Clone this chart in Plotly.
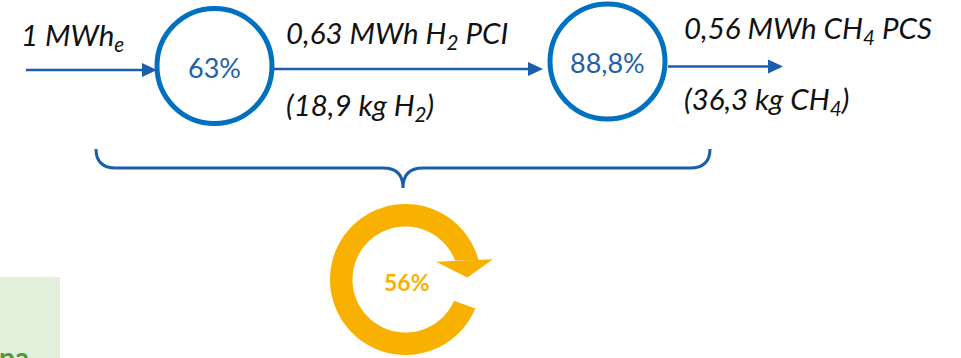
import math
import plotly.graph_objects as go

# ---- content -------------------------------------------------------------
stage_efficiency = [63.0, 88.8]          # % electrolysis, % methanation
overall_efficiency = round(stage_efficiency[0] * stage_efficiency[1] / 100)  # 56 %
flow_top = ["1 MWh<sub>e</sub>", "0,63 MWh H<sub>2</sub> PCI", "0,56 MWh CH<sub>4</sub> PCS"]
flow_bottom = ["", "(18,9 kg H<sub>2</sub>)", "(36,3 kg CH<sub>4</sub>)"]
side_label = "pa"

# ---- styling / layout constants ----------------------------------------------
W, H = 961, 358
FONT = "Lato"
TEXT_SIZE = 29.5
CIRCLE_BLUE = "#0070C0"
ARROW_BLUE = "#1A5DAB"
LABEL_BLUE = "#1F60AA"
GOLD = "#F8B100"

circle_centers = [(214.5, 66.0), (607.5, 61.5)]
circle_r = 57.5
arrows = [  # (x_start, x_tip, y)
    (26, 157, 70),
    (274, 543, 69),
    (668, 783, 66.5),
]
top_pos = [(19, 36), (284, 34), (682, 29)]
bottom_pos = [None, (284, 106), (682, 100)]


def fmt_pct(v):
    s = f"{v:.1f}".rstrip("0").rstrip(".")
    return s.replace(".", ",") + "%"


shapes = []
annotations = []

# stage circles
for (cx, cy), eff in zip(circle_centers, stage_efficiency):
    shapes.append(dict(type="circle", xref="x", yref="y",
                       x0=cx - circle_r, x1=cx + circle_r,
                       y0=cy - circle_r, y1=cy + circle_r,
                       line=dict(color=CIRCLE_BLUE, width=5)))
    annotations.append(dict(x=cx, y=cy + 1, xref="x", yref="y", text=fmt_pct(eff),
                            showarrow=False, xanchor="center", yanchor="middle",
                            font=dict(family=FONT, size=27, color=LABEL_BLUE)))

# flow arrows
HEAD_L, HEAD_W = 15, 7
for x0, xt, y in arrows:
    shapes.append(dict(type="line", xref="x", yref="y", x0=x0, x1=xt - HEAD_L + 1,
                       y0=y, y1=y, line=dict(color=ARROW_BLUE, width=2.5)))
    shapes.append(dict(type="path", xref="x", yref="y",
                       path=f"M {xt - HEAD_L} {y - HEAD_W} L {xt} {y} L {xt - HEAD_L} {y + HEAD_W} Z",
                       fillcolor=ARROW_BLUE, line=dict(width=0)))

# flow labels
for txt, (x, y) in zip(flow_top, top_pos):
    annotations.append(dict(x=x, y=y, xref="x", yref="y", text=f"<i>{txt}</i>",
                            showarrow=False, xanchor="left", yanchor="middle",
                            font=dict(family=FONT, size=TEXT_SIZE, color="#111111")))
for txt, pos in zip(flow_bottom, bottom_pos):
    if pos is None:
        continue
    x, y = pos
    annotations.append(dict(x=x, y=y, xref="x", yref="y", text=f"<i>{txt}</i>",
                            showarrow=False, xanchor="left", yanchor="middle",
                            font=dict(family=FONT, size=TEXT_SIZE, color="#111111")))

# curly brace grouping both stages
bl, br, by_top, by, bx, btip, rad = 96, 710, 149, 168, 403, 188, 20
brace = (f"M {bl} {by_top} Q {bl} {by} {bl + rad} {by} "
         f"L {bx - rad} {by} Q {bx} {by} {bx} {btip} "
         f"Q {bx} {by} {bx + rad} {by} "
         f"L {br - rad} {by} Q {br} {by} {br} {by_top}")
shapes.append(dict(type="path", xref="x", yref="y", path=brace,
                   line=dict(color=ARROW_BLUE, width=3)))

# circular arrow for overall efficiency
rcx, rcy, r_out, r_in = 405.5, 279.5, 75.5, 53.0
a_start_out, a_start_in = 22.5, 23.5       # degrees, clockwise on screen
a_end_out, a_end_in = 345.4, 339.0


def arc(r, a0, a1, n=90):
    pts = []
    for i in range(n + 1):
        a = math.radians(a0 + (a1 - a0) * i / n)
        pts.append((rcx + r * math.cos(a), rcy + r * math.sin(a)))
    return pts


outer = arc(r_out, a_start_out, a_end_out)
inner = arc(r_in, a_end_in, a_start_in)
ring = "M " + " L ".join(f"{x:.2f} {y:.2f}" for x, y in outer + inner) + " Z"
shapes.append(dict(type="path", xref="x", yref="y", path=ring,
                   fillcolor=GOLD, line=dict(width=0)))

# arrowhead at the end of the ring
head_mid = (464.4, 260.5)
head_half, head_len, head_ang = 28.5, 17.0, math.radians(-2.4)
ux, uy = math.cos(head_ang), math.sin(head_ang)
p1 = (head_mid[0] - head_half * ux, head_mid[1] - head_half * uy)
p2 = (head_mid[0] + head_half * ux, head_mid[1] + head_half * uy)
tip = (head_mid[0] - head_len * uy + 2.3, head_mid[1] + head_len * ux)
shapes.append(dict(type="path", xref="x", yref="y",
                   path=f"M {p1[0]:.2f} {p1[1]:.2f} L {p2[0]:.2f} {p2[1]:.2f} L {tip[0]:.2f} {tip[1]:.2f} Z",
                   fillcolor=GOLD, line=dict(width=0)))

annotations.append(dict(x=406.5, y=282, xref="x", yref="y", text=f"<b>{overall_efficiency}%</b>",
                        showarrow=False, xanchor="center", yanchor="middle",
                        font=dict(family=FONT, size=23, color=GOLD)))

# partially visible green side panel
shapes.append(dict(type="rect", xref="x", yref="y", x0=-2, x1=60, y0=277, y1=360,
                   fillcolor="#E2EFDA", line=dict(width=0), layer="below"))
annotations.append(dict(x=31, y=357, xref="x", yref="y", text=f"<b>{side_label}</b>",
                        showarrow=False, xanchor="right", yanchor="middle",
                        font=dict(family=FONT, size=28, color="#4E9A33")))

fig = go.Figure()
fig.update_layout(
    width=W, height=H,
    margin=dict(l=0, r=0, t=0, b=0),
    paper_bgcolor="white", plot_bgcolor="white",
    xaxis=dict(range=[0, W], visible=False, fixedrange=True),
    yaxis=dict(range=[H, 0], visible=False, fixedrange=True),
    shapes=shapes, annotations=annotations,
    showlegend=False,
)
fig.write_html("out.html")
